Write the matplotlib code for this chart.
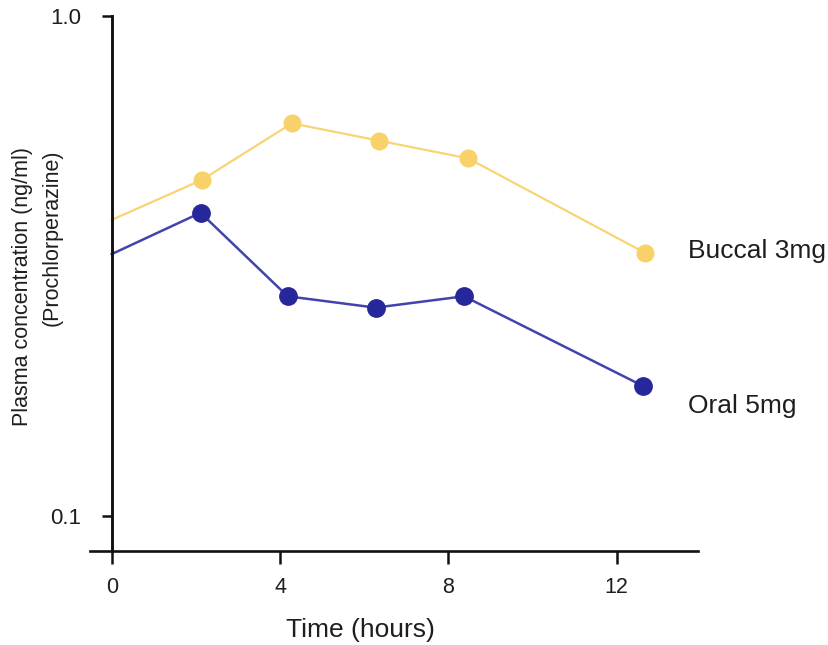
import matplotlib
matplotlib.use("Agg")
import matplotlib.pyplot as plt
from matplotlib.ticker import FixedLocator, FixedFormatter, NullLocator

plt.rcParams['font.family'] = ['Liberation Sans', 'DejaVu Sans']

# Prochlorperazine plasma levels over time
time_buccal = [0, 2.14, 4.28, 6.36, 8.47, 12.67]
conc_buccal = [0.391, 0.470, 0.610, 0.563, 0.519, 0.336]
time_oral = [0, 2.11, 4.18, 6.27, 8.37, 12.62]
conc_oral = [0.334, 0.404, 0.275, 0.261, 0.275, 0.182]

x_ticks = [0, 4, 8, 12]
x_tick_labels = ["0", "4", "8", "12"]
y_ticks = [0.1, 1.0]
y_tick_labels = ["0.1", "1.0"]

series_labels = ["Buccal 3mg", "Oral 5mg"]

W, H = 829, 645
fig = plt.figure(figsize=(W / 100, H / 100), dpi=100)
ax = fig.add_axes([90 / W, 94.3 / H, 608 / W, 534.7 / H])

buccal_color = "#F9D16B"
oral_color = "#25279A"
text_color = "#1E1E1E"

# lines start at the y axis; markers only from the first sampling time on
ax.plot(time_buccal, conc_buccal, color="#F7D574", lw=1.6, zorder=2)
ax.plot(time_buccal[1:], conc_buccal[1:], ls="none", marker="o", ms=12,
        color=buccal_color, mec=buccal_color, zorder=3)
ax.plot(time_oral, conc_oral, color="#4343AC", lw=1.8, zorder=2)
ax.plot(time_oral[1:], conc_oral[1:], ls="none", marker="o", ms=12.5,
        color=oral_color, mec=oral_color, zorder=3)

ax.set_yscale("log")
ax.set_ylim(0.0852, 1.0)
ax.set_xlim(-0.516, 13.93)

ax.spines["top"].set_visible(False)
ax.spines["right"].set_visible(False)
ax.spines["left"].set_position(("data", 0))
ax.spines["left"].set_linewidth(2.1)
ax.spines["bottom"].set_linewidth(1.9)
for s in ("left", "bottom"):
    ax.spines[s].set_color("#111111")

ax.xaxis.set_major_locator(FixedLocator(x_ticks))
ax.xaxis.set_major_formatter(FixedFormatter(x_tick_labels))
ax.yaxis.set_major_locator(FixedLocator(y_ticks))
ax.yaxis.set_major_formatter(FixedFormatter(y_tick_labels))
ax.yaxis.set_minor_locator(NullLocator())
ax.xaxis.set_minor_locator(NullLocator())

ax.tick_params(axis="x", direction="out", length=9, width=1.8, pad=10,
               labelsize=15.5, colors="#111111", labelcolor=text_color)
ax.tick_params(axis="y", direction="out", length=7, width=1.8, pad=15,
               labelsize=16, colors="#111111", labelcolor=text_color)

ax.set_xlabel("Time (hours)", fontsize=19, color=text_color)
ax.xaxis.set_label_coords((360 - 90) / 608, -(630 - 550.7) / 534.7)
ax.xaxis.label.set_va("center")

fig.text(23 / W, 1 - 147 / H, "Plasma concentration (ng/ml)", rotation=90,
         ha="center", va="top", fontsize=15.5, color=text_color)
fig.text(52 / W, 1 - 149 / H, "(Prochlorperazine)", rotation=90,
         ha="center", va="top", fontsize=15.5, color=text_color)

fig.text(688 / W, 1 - 251 / H, series_labels[0], ha="left", va="center",
         fontsize=19, color=text_color)
fig.text(688 / W, 1 - 406 / H, series_labels[1], ha="left", va="center",
         fontsize=19, color=text_color)

fig.savefig("out.png", dpi=100, facecolor="white")
